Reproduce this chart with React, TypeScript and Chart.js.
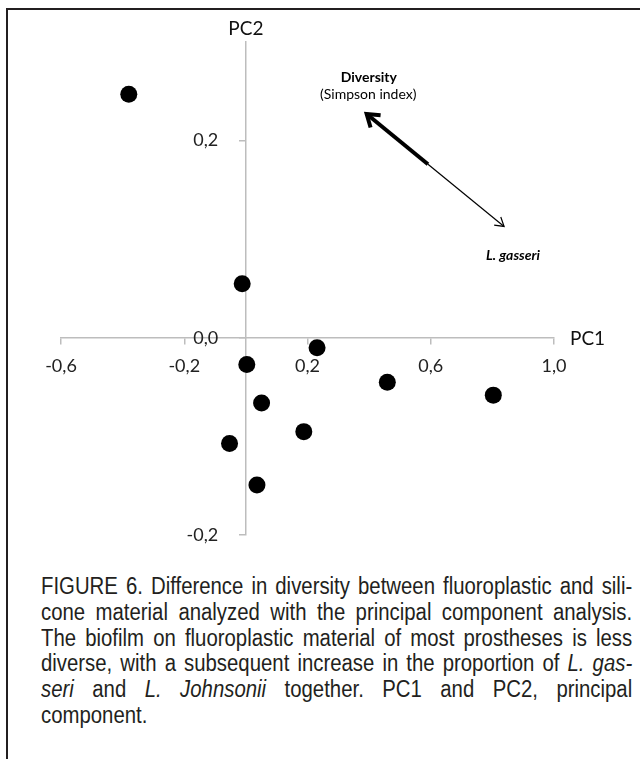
import React, { useEffect, useRef } from 'react';
import { Chart, registerables } from 'chart.js';

Chart.register(...registerables);

// ---- data ----
const pc1Scores = [-0.38, -0.012, 0.231, 0.003, 0.459, 0.803, 0.051, 0.188, -0.053, 0.036];
const pc2Scores = [0.247, 0.055, -0.01, -0.027, -0.045, -0.058, -0.066, -0.095, -0.107, -0.149];

const xTickValues = [-0.6, -0.2, 0.2, 0.6, 1.0];
const yTickValues = [-0.2, 0.0, 0.2];
const xMin = -0.6;
const xMax = 1.0;
const yMin = -0.2;
const yMax = 0.3;

const xAxisTitle = 'PC1';
const yAxisTitle = 'PC2';

// loading vectors: common origin, Diversity tip, L. gasseri tip (data space)
const vectorOrigin = [0.591, 0.176];
const diversityTip = [0.392, 0.227];
const gasseriTip = [0.838, 0.113];

const diversityTitle = 'Diversity';
const diversitySub = '(Simpson index)';
const gasseriName = 'L. gasseri';
const diversityTitleAt = [0.399, 0.264];
const diversitySubAt = [0.397, 0.247];
const gasseriNameAt = [0.867, 0.084];

const captionLines: Array<Array<[string, boolean]>> = [
  [['FIGURE 6. Difference in diversity between fluoroplastic and sili-', false]],
  [['cone material analyzed with the principal component analysis.', false]],
  [['The biofilm on fluoroplastic material of most prostheses is less', false]],
  [['diverse, with a subsequent increase in the proportion of ', false], ['L. gas-', true]],
  [['seri', true], [' and ', false], ['L. Johnsonii', true], [' together. PC1 and PC2, principal', false]],
  [['component.', false]],
];

const AXIS_COLOR = '#bdbdbd';
const TEXT_COLOR = '#222222';
const FONT = 'Lato';

const fmt = (v: number) => Number(v).toFixed(1).replace('.', ',');
// y labels sit to the left of the vertical axis (tick + gap)
const Y_LABEL_GAP = '      ';

function drawHead(ctx: CanvasRenderingContext2D, fx: number, fy: number, tx: number, ty: number, len: number, ang: number, w: number) {
  const th = Math.atan2(ty - fy, tx - fx);
  ctx.save();
  ctx.strokeStyle = '#000';
  ctx.lineWidth = w;
  ctx.lineJoin = 'miter';
  ctx.lineCap = 'butt';
  ctx.beginPath();
  ctx.moveTo(tx + len * Math.cos(th + Math.PI - ang), ty + len * Math.sin(th + Math.PI - ang));
  ctx.lineTo(tx, ty);
  ctx.lineTo(tx + len * Math.cos(th + Math.PI + ang), ty + len * Math.sin(th + Math.PI + ang));
  ctx.stroke();
  ctx.restore();
}

const annotationPlugin = {
  id: 'pcaAnnotations',
  afterDatasetsDraw(chart: any) {
    const { ctx, scales, chartArea } = chart;
    const xs = scales.x;
    const ys = scales.y;
    const px = (v: number) => xs.getPixelForValue(v);
    const py = (v: number) => ys.getPixelForValue(v);

    drawHead(ctx, px(vectorOrigin[0]), py(vectorOrigin[1]), px(diversityTip[0]), py(diversityTip[1]), 14, 0.6, 4);
    drawHead(ctx, px(vectorOrigin[0]), py(vectorOrigin[1]), px(gasseriTip[0]), py(gasseriTip[1]), 10, 0.55, 1.2);

    ctx.save();
    ctx.fillStyle = '#000';
    ctx.textAlign = 'center';
    ctx.textBaseline = 'middle';
    ctx.font = `bold 14px ${FONT}`;
    ctx.fillText(diversityTitle, px(diversityTitleAt[0]), py(diversityTitleAt[1]));
    ctx.font = `14px ${FONT}`;
    ctx.fillText(diversitySub, px(diversitySubAt[0]), py(diversitySubAt[1]));
    ctx.font = `italic bold 14px ${FONT}`;
    ctx.fillText(gasseriName, px(gasseriNameAt[0]), py(gasseriNameAt[1]));

    ctx.fillStyle = '#111';
    ctx.font = `19px ${FONT}`;
    ctx.textAlign = 'center';
    ctx.fillText(yAxisTitle, px(0), chartArea.top - 13);
    ctx.textAlign = 'left';
    ctx.fillText(xAxisTitle, chartArea.right + 16, py(0) + 1);
    ctx.restore();
  },
};

function PcaChart() {
  const ref = useRef<HTMLCanvasElement | null>(null);
  useEffect(() => {
    if (!ref.current) return;
    const points = pc1Scores.map((x, i) => ({ x, y: pc2Scores[i] }));
    const chart = new Chart(ref.current, {
      type: 'scatter',
      data: {
        datasets: [
          {
            data: points,
            pointRadius: 8.5,
            pointHoverRadius: 8.5,
            backgroundColor: '#000',
            borderWidth: 0,
            order: 1,
          },
          {
            data: [
              { x: vectorOrigin[0], y: vectorOrigin[1] },
              { x: diversityTip[0], y: diversityTip[1] },
            ],
            showLine: true,
            borderColor: '#000',
            borderWidth: 4,
            pointRadius: 0,
            order: 2,
          },
          {
            data: [
              { x: vectorOrigin[0], y: vectorOrigin[1] },
              { x: gasseriTip[0], y: gasseriTip[1] },
            ],
            showLine: true,
            borderColor: '#000',
            borderWidth: 1.2,
            pointRadius: 0,
            order: 3,
          },
        ],
      },
      options: {
        responsive: false,
        animation: false,
        devicePixelRatio: 1,
        events: [],
        layout: { padding: { left: 61, right: 86, top: 42, bottom: 8 } },
        plugins: { legend: { display: false }, tooltip: { enabled: false } },
        scales: {
          x: {
            type: 'linear',
            min: xMin,
            max: xMax,
            position: { y: 0 } as any,
            afterBuildTicks: (s: any) => {
              s.ticks = xTickValues.map((v) => ({ value: v }));
            },
            grid: { drawOnChartArea: false, drawTicks: true, tickLength: 6, color: AXIS_COLOR, lineWidth: 1.5 },
            border: { display: true, color: AXIS_COLOR, width: 1.5 },
            ticks: {
              font: { family: FONT, size: 18 },
              color: TEXT_COLOR,
              padding: 11,
              maxRotation: 0,
              autoSkip: false,
              callback: (v: any) => fmt(v),
            },
          },
          y: {
            type: 'linear',
            min: yMin,
            max: yMax,
            position: { x: 0 } as any,
            afterBuildTicks: (s: any) => {
              s.ticks = yTickValues.map((v) => ({ value: v }));
            },
            grid: { drawOnChartArea: false, drawTicks: true, tickLength: 6, color: AXIS_COLOR, lineWidth: 1.5 },
            border: { display: true, color: AXIS_COLOR, width: 1.5 },
            ticks: {
              font: { family: FONT, size: 18 },
              color: TEXT_COLOR,
              padding: 14,
              autoSkip: false,
              callback: (v: any) => fmt(v) + Y_LABEL_GAP,
            },
          },
        },
      },
      plugins: [annotationPlugin],
    });
    return () => chart.destroy();
  }, []);
  return (
    <canvas
      ref={ref}
      width={640}
      height={560}
      style={{ position: 'absolute', left: 0, top: 0, width: 640, height: 560 }}
    />
  );
}

export default function App() {
  return (
    <div style={{ position: 'absolute', left: 0, top: 0, width: 640, height: 759, overflow: 'hidden', background: '#fff' }}>
      <div
        style={{
          position: 'absolute',
          left: 6,
          top: 8,
          width: 700,
          height: 800,
          borderLeft: '2px solid #231f20',
          borderTop: '2px solid #231f20',
        }}
      />
      <PcaChart />
      <div style={{ position: 'absolute', left: 41, top: 574 }}>
        {captionLines.map((segs, i) => {
          const last = i === captionLines.length - 1;
          return (
            <div
              key={i}
              style={{
                width: 668,
                height: 25.8,
                lineHeight: '25.8px',
                fontFamily: '"Liberation Sans", Arial, sans-serif',
                fontSize: 23,
                color: '#231f20',
                whiteSpace: 'nowrap',
                textAlign: last ? 'left' : 'justify',
                textAlignLast: last ? 'left' : 'justify',
                transform: 'scaleX(0.885)',
                transformOrigin: 'left center',
              } as any}
            >
              {segs.map(([t, it], j) =>
                it ? <i key={j}>{t}</i> : <span key={j}>{t}</span>
              )}
            </div>
          );
        })}
      </div>
    </div>
  );
}
